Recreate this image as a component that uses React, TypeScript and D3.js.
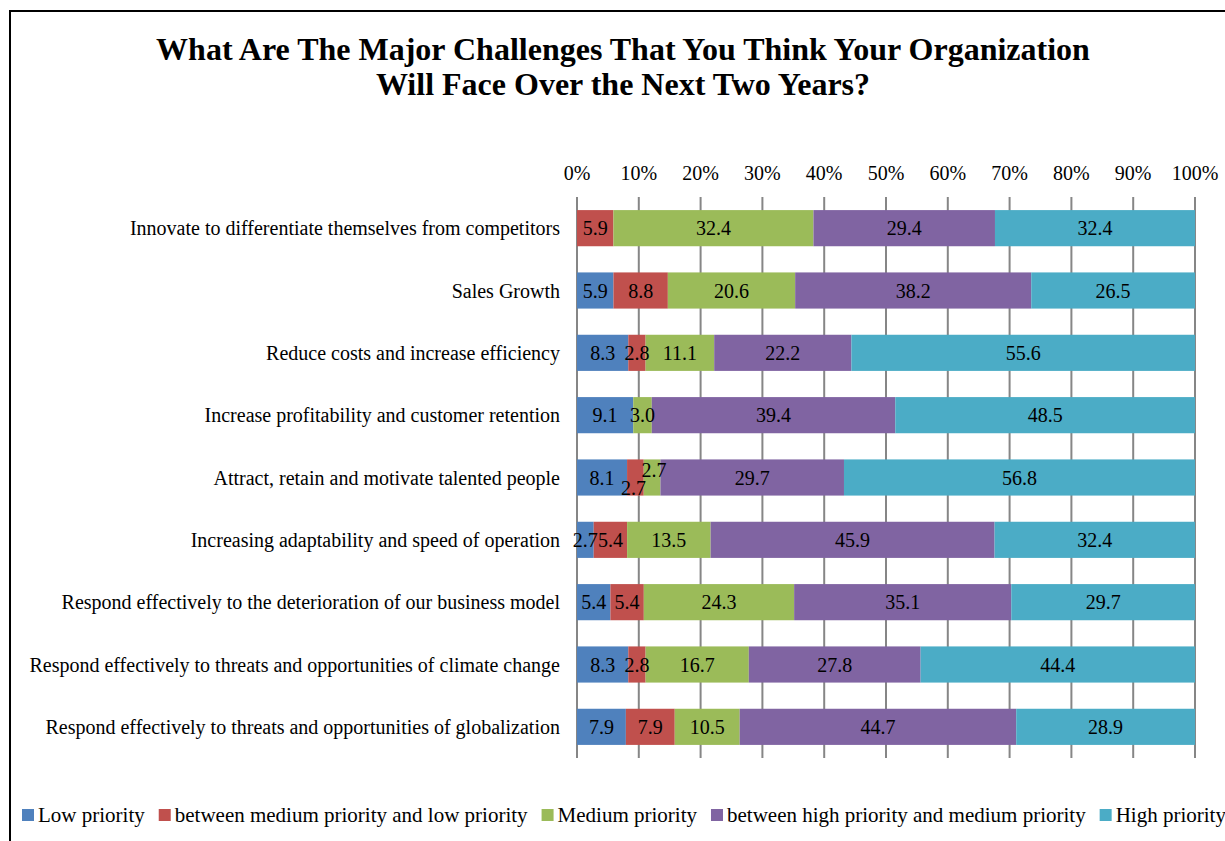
import React, { useEffect, useRef } from "react";
import * as d3 from "d3";

const categories = [
  "Innovate to differentiate themselves from competitors",
  "Sales Growth",
  "Reduce costs and increase efficiency",
  "Increase profitability and customer retention",
  "Attract, retain and motivate talented people",
  "Increasing adaptability and speed of operation",
  "Respond effectively to the deterioration of our business model",
  "Respond effectively to threats and opportunities of climate change",
  "Respond effectively to threats and opportunities of globalization",
];

const seriesNames = [
  "Low priority",
  "between medium priority and low priority",
  "Medium priority",
  "between high priority and medium priority",
  "High priority",
];

const lowPriority = [0, 5.9, 8.3, 9.1, 8.1, 2.7, 5.4, 8.3, 7.9];
const mediumLowPriority = [5.9, 8.8, 2.8, 0, 2.7, 5.4, 5.4, 2.8, 7.9];
const mediumPriority = [32.4, 20.6, 11.1, 3.0, 2.7, 13.5, 24.3, 16.7, 10.5];
const highMediumPriority = [29.4, 38.2, 22.2, 39.4, 29.7, 45.9, 35.1, 27.8, 44.7];
const highPriority = [32.4, 26.5, 55.6, 48.5, 56.8, 32.4, 29.7, 44.4, 28.9];

const tickValues = [0, 0.1, 0.2, 0.3, 0.4, 0.5, 0.6, 0.7, 0.8, 0.9, 1.0];

const colors = ["#4F81BD", "#C0504D", "#9BBB59", "#8064A2", "#4BACC6"];

const W = 1225;
const H = 841;
const FONT = "'Liberation Serif', 'Times New Roman', serif";

export default function App() {
  const ref = useRef<SVGSVGElement | null>(null);

  useEffect(() => {
    const svg = d3.select(ref.current);
    svg.selectAll("*").remove();

    const allSeries = [lowPriority, mediumLowPriority, mediumPriority, highMediumPriority, highPriority];
    const rows = categories.map((c, i) => {
      const vals = allSeries.map((s) => s[i]);
      const total = d3.sum(vals);
      return { cat: c, vals, total };
    });

    const x = d3.scaleLinear().domain([0, 1]).range([577, 1195]);
    const y = d3
      .scaleBand<string>()
      .domain(categories)
      .range([197, 758])
      .paddingInner(0.42)
      .paddingOuter(0.21);

    // cut-off heading text above the frame
    svg
      .append("text")
      .attr("x", 40)
      .attr("y", -5)
      .attr("font-family", FONT)
      .attr("font-weight", "bold")
      .attr("font-size", 22)
      .attr("fill", "#000")
      .text("p");

    // frame
    svg
      .append("rect")
      .attr("x", 10)
      .attr("y", 11)
      .attr("width", W + 20)
      .attr("height", H + 20)
      .attr("fill", "none")
      .attr("stroke", "#000")
      .attr("stroke-width", 2);

    // title
    const title = svg
      .append("text")
      .attr("text-anchor", "middle")
      .attr("font-family", FONT)
      .attr("font-weight", "bold")
      .attr("font-size", 32)
      .attr("fill", "#000");
    title.append("tspan").attr("x", 623).attr("y", 60).text("What Are The Major Challenges That You Think Your Organization");
    title.append("tspan").attr("x", 623).attr("y", 95).text("Will Face Over the Next Two Years?");

    // grid
    svg
      .append("g")
      .selectAll("line")
      .data(tickValues)
      .join("line")
      .attr("x1", (d) => x(d))
      .attr("x2", (d) => x(d))
      .attr("y1", 197)
      .attr("y2", 758)
      .attr("stroke", "#868686")
      .attr("stroke-width", 2);

    // tick labels
    svg
      .append("g")
      .selectAll("text")
      .data(tickValues)
      .join("text")
      .attr("x", (d) => x(d))
      .attr("y", 180)
      .attr("text-anchor", "middle")
      .attr("font-family", FONT)
      .attr("font-size", 20)
      .attr("fill", "#000")
      .text((d) => d3.format(".0%")(d));

    // category labels
    svg
      .append("g")
      .selectAll("text")
      .data(categories)
      .join("text")
      .attr("x", 560)
      .attr("y", (d) => (y(d) as number) + y.bandwidth() / 2)
      .attr("dy", "0.35em")
      .attr("text-anchor", "end")
      .attr("font-family", FONT)
      .attr("font-size", 20)
      .attr("fill", "#000")
      .text((d) => d);

    // bars
    const barG = svg.append("g");
    const labelG = svg.append("g");
    rows.forEach((r) => {
      let cum = 0;
      const y0 = y(r.cat) as number;
      const segs = r.vals.map((v, k) => {
        const start = cum / r.total;
        cum += v;
        const end = cum / r.total;
        return { v, k, start, end };
      });
      segs.forEach((s) => {
        if (s.v <= 0) return;
        barG
          .append("rect")
          .attr("x", x(s.start))
          .attr("y", y0)
          .attr("width", x(s.end) - x(s.start))
          .attr("height", y.bandwidth())
          .attr("fill", colors[s.k]);
      });
      const visible = segs.filter((s) => s.v > 0);
      visible.forEach((s, idx) => {
        const w = x(s.end) - x(s.start);
        const prev = visible[idx - 1];
        const next = visible[idx + 1];
        const narrow = (q: typeof s | undefined) => !!q && x(q.end) - x(q.start) < 20;
        let dy = 0;
        let dx = 0;
        if (w < 20 && narrow(next)) {
          dy = 10;
          dx = -2;
        } else if (w < 20 && narrow(prev)) {
          dy = -8;
          dx = 2;
        }
        labelG
          .append("text")
          .attr("x", (x(s.start) + x(s.end)) / 2 + dx)
          .attr("y", y0 + y.bandwidth() / 2 + dy)
          .attr("dy", "0.35em")
          .attr("text-anchor", "middle")
          .attr("font-family", FONT)
          .attr("font-size", 20)
          .attr("fill", "#000")
          .text(d3.format(".1f")(s.v));
      });
    });

    // legend
    const legend = svg.append("g");
    let lx = 22;
    seriesNames.forEach((name, k) => {
      legend
        .append("rect")
        .attr("x", lx)
        .attr("y", 809)
        .attr("width", 12)
        .attr("height", 12)
        .attr("fill", colors[k]);
      const t = legend
        .append("text")
        .attr("x", lx + 16)
        .attr("y", 815)
        .attr("dy", "0.35em")
        .attr("font-family", FONT)
        .attr("font-size", 21)
        .attr("fill", "#000")
        .text(name);
      const len = (t.node() as SVGTextElement).getComputedTextLength();
      lx = lx + 16 + len + 14;
    });
  }, []);

  return (
    <svg
      ref={ref}
      width={W}
      height={H}
      style={{ position: "absolute", left: 0, top: 0, background: "#fff" }}
    />
  );
}
